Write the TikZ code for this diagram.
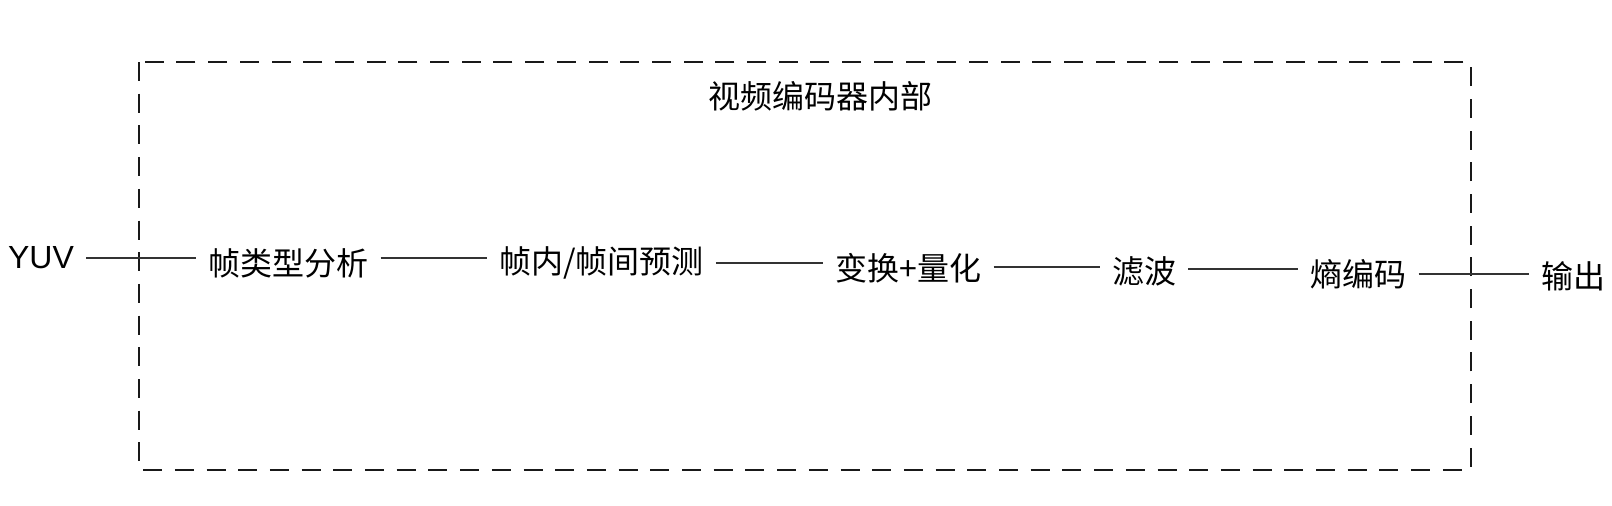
\documentclass[tikz,border=0pt]{standalone}
\usepackage{fontspec}
\newfontfamily\cjk{Noto Sans CJK SC}
\newfontfamily\lat{Liberation Sans}
\begin{document}
\begin{tikzpicture}[x=1pt,y=-1pt,
  lbl/.style={font=\cjk\fontsize{32}{36}\selectfont, inner sep=0pt, inner xsep=12pt, text=black},
  latlbl/.style={font=\lat\fontsize{32}{36}\selectfont, inner sep=0pt, inner xsep=12pt, text=black},
  conn/.style={line width=1.3pt, draw=black!80},
  frame/.style={line width=2pt, draw=black!90, dash pattern=on 19pt off 12.7pt}]
\useasboundingbox (0,0) rectangle (1612,506);
\draw[frame] (139,62) rectangle (1471,470);
\node[lbl] (title) at (820,96) {视频编码器内部};
\node[latlbl] (yuv) at (41,258) {YUV};
\node[lbl] (fl) at (288.5,263) {帧类型分析};
\node[lbl] (yc) at (601.5,263) {帧内/帧间预测};
\node[lbl] (bh) at (908.5,268) {变换+量化};
\node[lbl] (lb) at (1144,271) {滤波};
\node[lbl] (sb) at (1358.5,274) {熵编码};
\node[lbl] (out) at (1573.5,276) {输出};
\draw[conn] (yuv.east) -- (yuv.east -| fl.west);
\draw[conn] ([yshift=5pt]fl.east) -- ([yshift=5pt]fl.east -| yc.west);
\draw[conn] (yc.east) -- (yc.east -| bh.west);
\draw[conn] ([yshift=1pt]bh.east) -- ([yshift=1pt]bh.east -| lb.west);
\draw[conn] ([yshift=2pt]lb.east) -- ([yshift=2pt]lb.east -| sb.west);
\draw[conn] (sb.east) -- (sb.east -| out.west);
\end{tikzpicture}
\end{document}
